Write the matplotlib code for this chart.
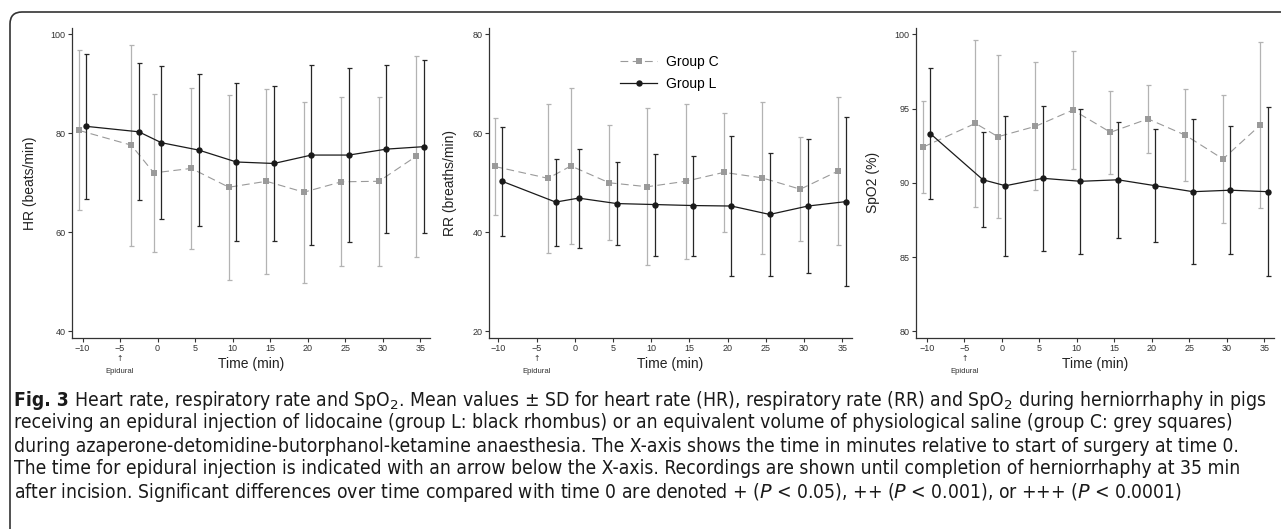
# -*- coding: utf-8 -*-
# Fig. 3 - HR, RR and SpO2 in pigs, group C vs group L (mean +- SD)

import matplotlib
matplotlib.use('Agg')
import numpy as np
import matplotlib.pyplot as plt
from matplotlib.patches import FancyBboxPatch
from matplotlib.transforms import IdentityTransform

plt.rcParams['font.family'] = ['Liberation Sans', 'DejaVu Sans']
plt.rcParams['mathtext.fontset'] = 'custom'
plt.rcParams['mathtext.rm'] = 'DejaVu Sans Condensed'
plt.rcParams['mathtext.it'] = 'DejaVu Sans Condensed:italic'

# time points (min), 0 = start of surgery
time = [-10, -3, 0, 5, 10, 15, 20, 25, 30, 35]
xticks = [-10, -5, 0, 5, 10, 15, 20, 25, 30, 35]

# HR (beats/min)
hr_c = [80.6, 77.6, 72.0, 72.9, 69.1, 70.3, 68.1, 70.2, 70.3, 75.4]
hr_c_sd = [16.2, 20.3, 16.0, 16.2, 18.7, 18.7, 18.3, 17.1, 17.1, 20.3]
hr_l = [81.4, 80.3, 78.1, 76.6, 74.2, 73.9, 75.6, 75.6, 76.8, 77.3]
hr_l_sd = [14.6, 13.8, 15.4, 15.4, 15.9, 15.6, 18.2, 17.6, 17.0, 17.5]

# RR (breaths/min)
rr_c = [53.3, 50.9, 53.4, 50.0, 49.2, 50.3, 52.1, 51.0, 48.7, 52.4]
rr_c_sd = [9.8, 15.0, 15.8, 11.6, 15.9, 15.7, 12.0, 15.4, 10.5, 14.9]
rr_l = [50.3, 46.1, 46.9, 45.8, 45.6, 45.4, 45.3, 43.6, 45.3, 46.2]
rr_l_sd = [11.0, 8.8, 10.0, 8.4, 10.3, 10.1, 14.1, 12.4, 13.6, 17.0]

# SpO2 (%)
spo2_c = [92.4, 94.0, 93.1, 93.8, 94.9, 93.4, 94.3, 93.2, 91.6, 93.9]
spo2_c_sd = [3.1, 5.6, 5.5, 4.3, 4.0, 2.8, 2.3, 3.1, 4.3, 5.6]
spo2_l = [93.3, 90.2, 89.8, 90.3, 90.1, 90.2, 89.8, 89.4, 89.5, 89.4]
spo2_l_sd = [4.4, 3.2, 4.7, 4.9, 4.9, 3.9, 3.8, 4.9, 4.3, 5.7]

ylabels = ['HR (beats/min)', 'RR (breaths/min)', 'SpO2 (%)']
yticks = [[40, 60, 80, 100], [20, 40, 60, 80], [80, 85, 90, 95, 100]]
group_names = ['Group C', 'Group L']

caption = [
    ' Heart rate, respiratory rate and SpO$_2$. Mean values \u00b1 SD for heart rate (HR), '
    'respiratory rate (RR) and SpO$_2$ during herniorrhaphy in pigs',
    'receiving an epidural injection of lidocaine (group L: black rhombus) or an equivalent '
    'volume of physiological saline (group C: grey squares)',
    'during azaperone-detomidine-butorphanol-ketamine anaesthesia. The X-axis shows the time '
    'in minutes relative to start of surgery at time 0.',
    'The time for epidural injection is indicated with an arrow below the X-axis. Recordings '
    'are shown until completion of herniorrhaphy at 35 min',
    'after incision. Significant differences over time compared with time 0 are denoted '
    '+ ($P$ < 0.05), ++ ($P$ < 0.001), or +++ ($P$ < 0.0001)',
]

W, H = 1281.0, 529.0
fig = plt.figure(figsize=(W / 100, H / 100), dpi=100)

# rounded frame round the whole figure (cut at right/bottom edge)
frame = FancyBboxPatch((10, -30), 1320, 529 - 12 + 30,
                       boxstyle='round,pad=0,rounding_size=12',
                       transform=IdentityTransform(), fill=False,
                       edgecolor='#333333', linewidth=1.2)
fig.add_artist(frame)

# panel boxes in pixels: left, right, top, bottom
boxes = [(72, 430, 28, 337.7), (488.7, 852, 28, 337.7), (916, 1274, 28, 337.7)]
xlims = [(-11.4, 36.3), (-11.26, 36.27), (-11.43, 36.3)]
ylims = [(38.7, 101.27), (18.7, 81.27), (79.57, 100.42)]
ylab_x = [-0.098, -0.086, -0.10]

data = [(hr_c, hr_c_sd, hr_l, hr_l_sd),
        (rr_c, rr_c_sd, rr_l, rr_l_sd),
        (spo2_c, spo2_c_sd, spo2_l, spo2_l_sd)]

t = np.array(time, dtype=float)
for i in range(3):
    x0, x1, top, bot = boxes[i]
    ax = fig.add_axes([x0 / W, 1 - bot / H, (x1 - x0) / W, (bot - top) / H])
    c, c_sd, l, l_sd = data[i]

    # group C: grey squares, dashed, shifted left a bit
    ax.errorbar(t - 0.5, c, yerr=c_sd, fmt='none', ecolor='#b3b3b3',
                elinewidth=0.9, capsize=1.8, capthick=0.9)
    ax.plot(t - 0.5, c, color='#9a9a9a', linestyle=(0, (7, 4)), linewidth=0.8,
            marker='s', markersize=4.2, markeredgewidth=0, label=group_names[0])
    # group L: black dots, solid, shifted right a bit
    ax.errorbar(t + 0.5, l, yerr=l_sd, fmt='none', ecolor='#262626',
                elinewidth=0.9, capsize=1.8, capthick=0.9)
    ax.plot(t + 0.5, l, color='#1a1a1a', linewidth=0.9,
            marker='o', markersize=4.6, markeredgewidth=0, label=group_names[1])

    ax.set_xlim(xlims[i])
    ax.set_ylim(ylims[i])
    ax.set_xticks(xticks)
    ax.set_yticks(yticks[i])
    for s in ['top', 'right']:
        ax.spines[s].set_visible(False)
    for s in ['left', 'bottom']:
        ax.spines[s].set_color('#333333')
        ax.spines[s].set_linewidth(0.9)
    ax.tick_params(direction='out', length=3, width=0.8, colors='#333333',
                   labelsize=6.5, pad=1.5)

    ax.set_ylabel(ylabels[i], fontsize=10, color='#222222')
    ax.yaxis.set_label_coords(ylab_x[i], 0.5)
    ax.set_xlabel('Time (min)', fontsize=10, color='#222222', labelpad=3)

    # epidural marker under the x axis
    tr = ax.get_xaxis_transform()
    ax.text(-5, -0.066, '\u2191', transform=tr, ha='center', va='center',
            fontsize=5.6, color='#333333', family=['DejaVu Sans'])
    ax.text(-5, -0.108, 'Epidural', transform=tr, ha='center', va='center',
            fontsize=5.6, color='#333333')

    if i == 1:
        ax.legend(loc='upper left', bbox_to_anchor=(0.361, 0.913), frameon=False,
                  borderaxespad=0, borderpad=0, handlelength=2.7,
                  handletextpad=0.6, labelspacing=0.55, fontsize=10)

# caption, condensed font; size fitted so first line spans the frame
cap_family = ['DejaVu Sans Condensed', 'DejaVu Sans']
cap_stretch = 'condensed'
cap_x = 14
cap_y = [400, 423, 446, 469, 492]
fs = 12.0
fig.canvas.draw()
r = fig.canvas.get_renderer()
for k in range(2):
    tb = fig.text(0, 0, 'Fig. 3', fontsize=fs, weight='bold', family=cap_family,
                  fontstretch=cap_stretch)
    tr_ = fig.text(0, 0, caption[0], fontsize=fs, family=cap_family,
                   fontstretch=cap_stretch)
    w = tb.get_window_extent(r).width + tr_.get_window_extent(r).width
    tb.remove()
    tr_.remove()
    fs = fs * 1251.0 / w

head = fig.text(cap_x / W, 1 - cap_y[0] / H, 'Fig. 3', fontsize=fs, weight='bold',
                family=cap_family, fontstretch=cap_stretch, va='center', color='#1a1a1a')
hw = head.get_window_extent(r).width
for j, line in enumerate(caption):
    xx = cap_x + (hw if j == 0 else 0)
    fig.text(xx / W, 1 - cap_y[j] / H, line, fontsize=fs, family=cap_family,
             fontstretch=cap_stretch, va='center', color='#1a1a1a')

fig.savefig('out.png', dpi=100)
